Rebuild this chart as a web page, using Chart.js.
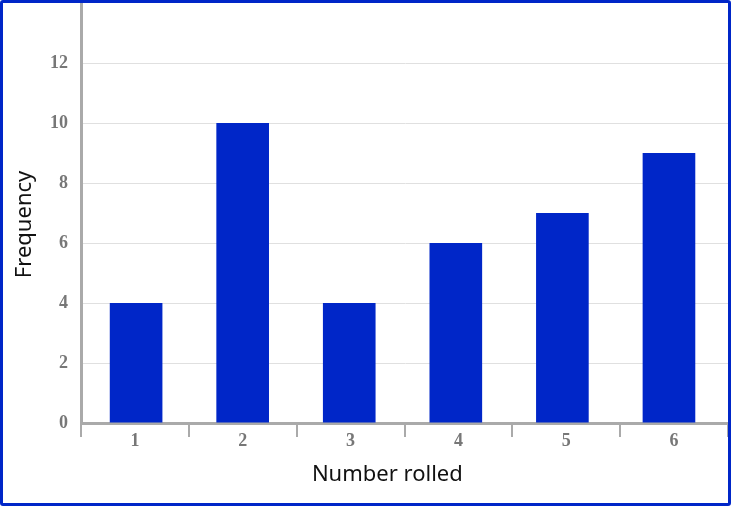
<!DOCTYPE html>
<html>
<head>
<meta charset="utf-8">
<script src="https://cdn.jsdelivr.net/npm/chart.js@4/dist/chart.umd.min.js"></script>
<style>
  html, body { margin: 0; padding: 0; background: #fff; }
  #box {
    width: 731px; height: 506px; box-sizing: border-box;
    border: 3px solid #0026c8; border-radius: 3px; position: relative;
  }
  #box canvas { display: block; }
</style>
</head>
<body>
<div id="box"><canvas id="myChart" width="725" height="500"></canvas></div>
<script>
// die rolls
const categories = ["1", "2", "3", "4", "5", "6"];
const frequency = [4, 10, 4, 6, 7, 9];
const yTicks = [0, 2, 4, 6, 8, 10, 12];
const yMax = 14;

const tickFont = { family: "'Liberation Serif', 'DejaVu Serif', serif", size: 18, weight: "bold" };
const titleFont = { family: "'Noto Sans', sans-serif", size: 22 };

// bars sit on a hidden linear axis (the original's bars drift a bit left of the category centres)
const barPoints = categories.map((c, i) => ({ x: Number(c), y: frequency[i] }));

var ctx = document.getElementById("myChart").getContext("2d");
var chart = new Chart(ctx, {
  type: "bar",
  data: {
    labels: categories,
    datasets: [
      {
        label: "Frequency",
        backgroundColor: "#0026c8",
        data: barPoints,
        xAxisID: "xb",
        barPercentage: 0.494,
        categoryPercentage: 1,
      },
    ],
  },
  options: {
    responsive: false,
    animation: false,
    layout: { padding: 0 },
    plugins: { legend: { display: false }, tooltip: { enabled: false } },
    scales: {
      x: {
        type: "category",
        grid: {
          offset: true,
          drawOnChartArea: false,
          drawTicks: true,
          tickLength: 14,
          color: "#aaaaaa",
          lineWidth: 2,
        },
        border: { color: "#aaaaaa", width: 3 },
        ticks: { color: "#777777", font: tickFont, padding: -6 },
        title: {
          display: true,
          text: "Number rolled      ",
          color: "#111111",
          font: titleFont,
          padding: { top: 0, bottom: 15 },
        },
        afterFit: (s) => { s.height = 80; s.paddingLeft = 0; s.paddingRight = 0; },
      },
      xb: {
        type: "linear",
        display: false,
        min: 0.483,
        max: 6.554,
        offset: false,
        afterBuildTicks: (s) => { s.ticks = categories.map((c) => ({ value: Number(c) })); },
      },
      y: {
        min: 0,
        max: yMax,
        afterBuildTicks: (s) => { s.ticks = yTicks.map((v) => ({ value: v })); },
        grid: { color: "#e0e0e0", lineWidth: 1, drawTicks: false },
        border: { color: "#aaaaaa", width: 3 },
        ticks: { color: "#777777", font: tickFont, padding: 13 },
        title: {
          display: true,
          text: "Frequency    ",
          color: "#111111",
          font: titleFont,
          padding: { top: 9, bottom: 0 },
        },
        afterFit: (s) => { s.width = 78; s.paddingTop = 0; s.paddingBottom = 0; },
      },
    },
  },
});
</script>
</body>
</html>
